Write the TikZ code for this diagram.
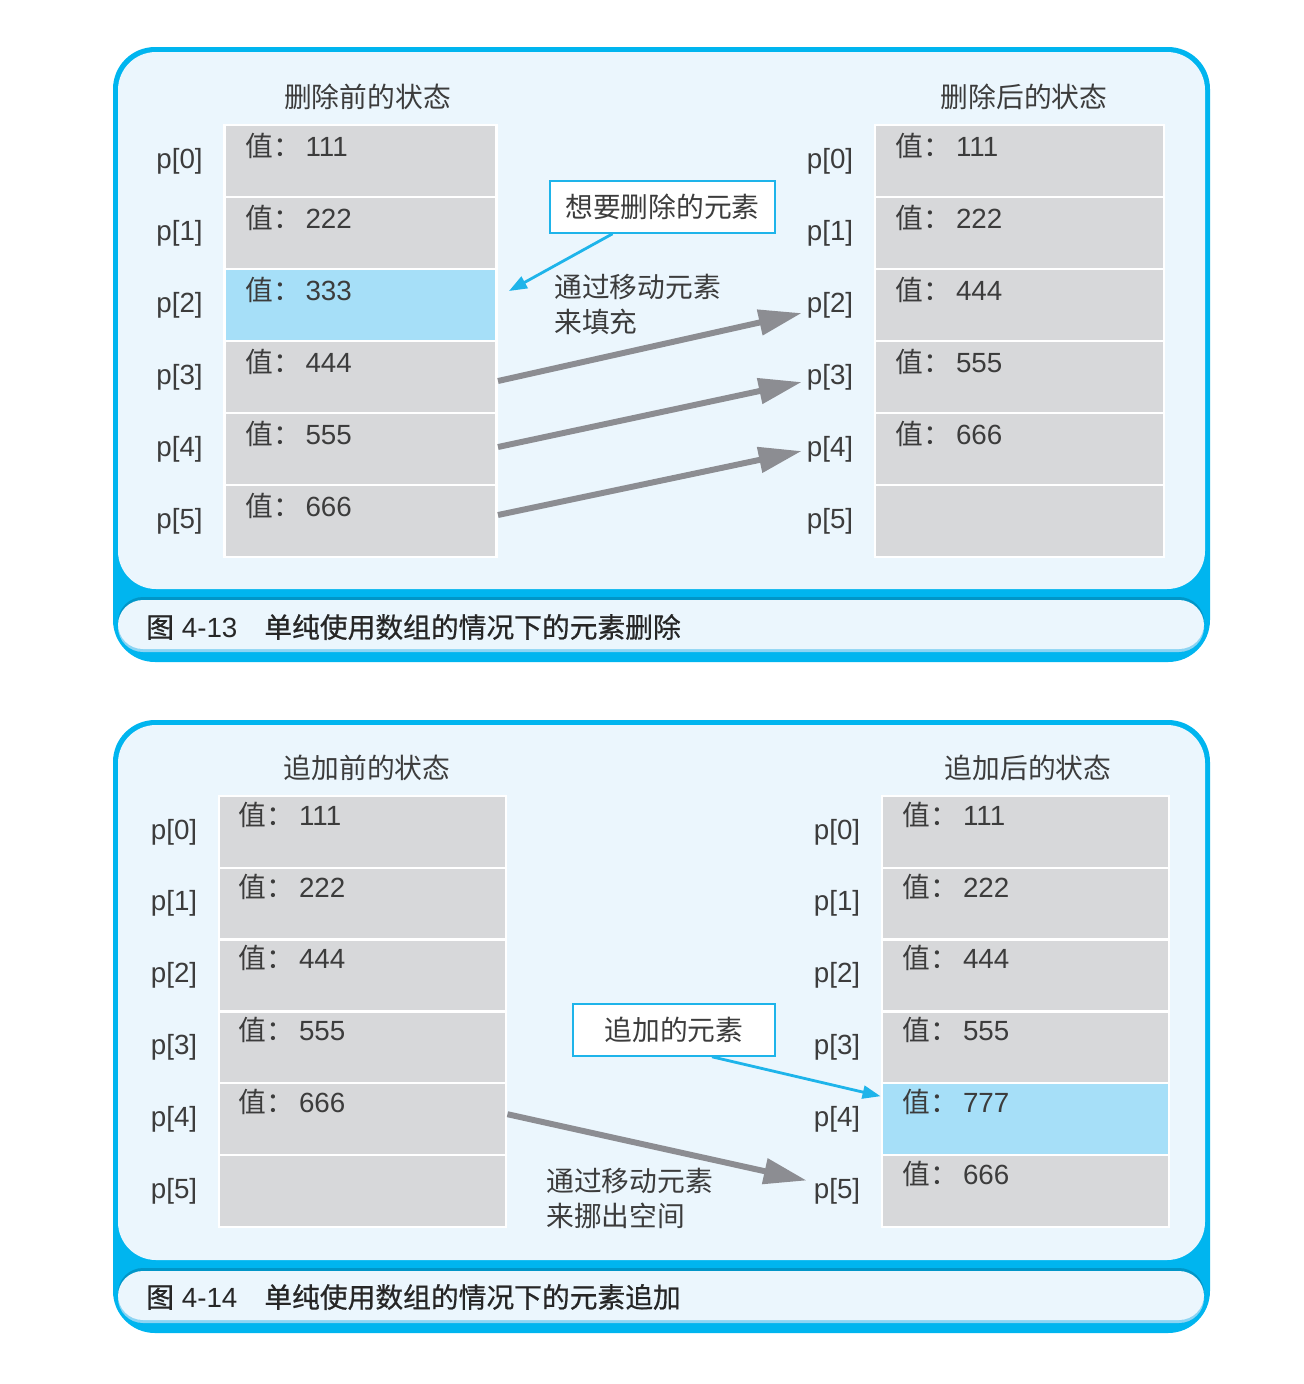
\documentclass[tikz,border=0pt]{standalone}
\usepackage{fontspec}
\setmainfont{Liberation Sans}
\newfontfamily\cjk{Noto Sans CJK SC}
\newfontfamily\capcjk{Noto Sans CJK SC}[FakeBold=0.7]
\usetikzlibrary{positioning,arrows.meta}
\definecolor{framecyan}{RGB}{0,181,239}
\definecolor{capdark}{RGB}{0,150,200}
\definecolor{caplight}{RGB}{140,212,243}
\definecolor{paneblue}{RGB}{235,246,253}
\definecolor{cellgray}{RGB}{215,216,218}
\definecolor{hilite}{RGB}{166,223,248}
\definecolor{movegray}{RGB}{140,141,146}
\definecolor{calloutcyan}{RGB}{30,180,234}
\definecolor{inkgray}{RGB}{60,60,60}
\newcommand\zh[1]{{\cjk #1}}
\newcommand\zhcap[1]{{\capcjk #1}}
\newcommand\fs{\fontsize{15.8}{19.8}\selectfont}

\begin{document}
\begin{tikzpicture}[
  x=0.02cm, y=-0.02cm,
  every node/.style={font=\fs, text=inkgray},
  cell/.style={draw=white, line width=0.05cm, minimum width=#1, minimum height=1.44cm, inner sep=0pt},
  plab/.style={inner sep=0pt},
  val/.style={anchor=west, inner sep=0pt},
  title/.style={inner sep=0pt},
  callout/.style={draw=calloutcyan, fill=white, line width=0.9pt, minimum height=1.04cm, inner sep=0pt},
  note/.style={align=left, anchor=north west, inner sep=0pt},
  captxt/.style={text=black!85, anchor=west, inner sep=0pt},
  mv/.style={movegray, line width=3.4pt, -{Triangle[length=0.86cm,width=0.5cm]}},
  pick/.style={calloutcyan, line width=1.6pt, -{Triangle[length=0.36cm,width=0.26cm]}}
]
\useasboundingbox (0,0) rectangle (1304,1384);

% frames
\foreach \t/\b in {47/662, 720/1333} {
  \fill[framecyan, rounded corners=0.84cm] (113,\t) rectangle (1210,\b);
  \fill[paneblue, rounded corners=0.76cm] (118,\t+5) rectangle (1205,\b-73);
  \fill[capdark, rounded corners=0.5cm] (118,\b-65) rectangle (1204,\b-16);
  \fill[caplight, rounded corners=0.5cm] (118,\b-58) rectangle (1204,\b-10);
  \fill[paneblue, rounded corners=0.5cm] (118,\b-62) rectangle (1204,\b-13);
}

% figure 4-13
\foreach \c [count=\i from 0] in {cellgray,cellgray,hilite,cellgray,cellgray,cellgray} {
  \node[cell=5.45cm, fill=\c] (dA\i) at (360.5,{161+72*\i}) {};
  \node[plab, left=0.4cm of dA\i] (dAp\i) {p[\i]};
  \node[cell=5.79cm, fill=cellgray] (dB\i) at (1019.5,{161+72*\i}) {};
  \node[plab, left=0.4cm of dB\i] (dBp\i) {p[\i]};
}
\foreach \v [count=\i from 0] in {111,222,333,444,555,666}
  \node[val] (dAv\i) at ([xshift=0.44cm,yshift=-0.44cm]dA\i.north west) {\zh{值：}\,\v};
\foreach \v [count=\i from 0] in {111,222,444,555,666}
  \node[val] (dBv\i) at ([xshift=0.44cm,yshift=-0.44cm]dB\i.north west) {\zh{值：}\,\v};
\node[title] (dAt) at ([xshift=0.14cm,yshift=0.54cm]dA0.north) {\zh{删除前的状态}};
\node[title] (dBt) at ([xshift=0.09cm,yshift=0.54cm]dB0.north) {\zh{删除后的状态}};

\node[callout, minimum width=4.5cm] (dcall) at (662.5,207) {\zh{想要删除的元素}};
\node[note] (dnote) at (554,274) {\zh{通过移动元素}\\\zh{来填充}};
\draw[pick] ([xshift=-1cm]dcall.south) -- ([xshift=0.22cm,yshift=0.28cm]dA2.east);
\draw[mv, shorten >=0.1cm] ([yshift=-0.08cm]dA3.east) -- ([yshift=-0.14cm]dBp2.west);
\draw[mv, shorten >=0.1cm] ([yshift=0.04cm]dA4.east) -- ([yshift=-0.08cm]dBp3.west);
\draw[mv, shorten >=0.1cm] ([yshift=0.12cm]dA5.east) -- ([yshift=-0.02cm]dBp4.west);

\node[captxt] (dcap) at (146,627) {\zhcap{图} 4-13\hspace{0.54cm}\zhcap{单纯使用数组的情况下的元素删除}};

% figure 4-14
\foreach \c [count=\i from 0] in {cellgray,cellgray,cellgray,cellgray,hilite,cellgray} {
  \node[cell=5.75cm, fill=cellgray] (aA\i) at (362.5,{832+71.8*\i}) {};
  \node[plab, left=0.4cm of aA\i] (aAp\i) {p[\i]};
  \node[cell=5.75cm, fill=\c] (aB\i) at (1025.5,{832+71.8*\i}) {};
  \node[plab, left=0.4cm of aB\i] (aBp\i) {p[\i]};
}
\foreach \v [count=\i from 0] in {111,222,444,555,666}
  \node[val] (aAv\i) at ([xshift=0.42cm,yshift=-0.4cm]aA\i.north west) {\zh{值：}\,\v};
\foreach \v [count=\i from 0] in {111,222,444,555,777,666}
  \node[val] (aBv\i) at ([xshift=0.44cm,yshift=-0.4cm]aB\i.north west) {\zh{值：}\,\v};
\node[title] (aAt) at ([xshift=0.09cm,yshift=0.54cm]aA0.north) {\zh{追加前的状态}};
\node[title] (aBt) at ([xshift=0.05cm,yshift=0.54cm]aB0.north) {\zh{追加后的状态}};

\node[callout, minimum width=4.04cm] (acall) at (674,1030) {\zh{追加的元素}};
\node[note] (anote) at (546,1168) {\zh{通过移动元素}\\\zh{来挪出空间}};
\draw[pick] ([xshift=0.76cm]acall.south) -- ([yshift=0.46cm]aB4.west);
\draw[mv, shorten >=0.14cm] ([yshift=0.1cm]aA4.east) -- ([yshift=0.18cm]aBp5.west);

\node[captxt] (acap) at (146,1297) {\zhcap{图} 4-14\hspace{0.54cm}\zhcap{单纯使用数组的情况下的元素追加}};
\end{tikzpicture}
\end{document}
